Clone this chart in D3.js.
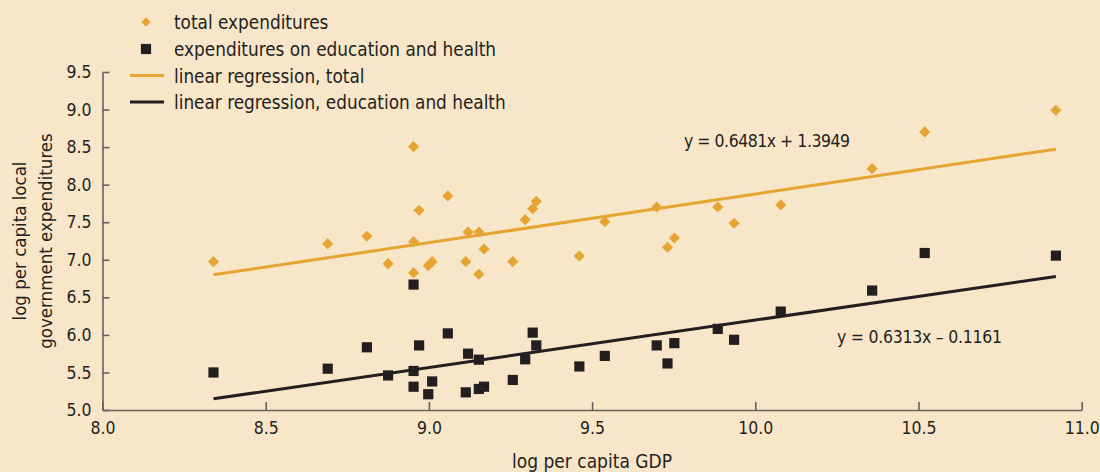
<!DOCTYPE html>
<html>
  <head>
    <meta charset="utf-8">
    <title>log per capita local government expenditures</title>
    <script src="https://d3js.org/d3.v7.min.js"></script>
<style type="text/css">
body{
  margin:0;
  background-color:#F8E6C8;
}
svg text{
  font-family:"DejaVu Sans Condensed","DejaVu Sans",sans-serif;
  font-stretch:condensed;
  fill:#231F20;
}
.axis path, .axis line{
  stroke:#66625d;
  stroke-width:1.6;
}
</style>
  </head>
  <body>
<svg width="1100" height="472"></svg>
<script>
// log per capita GDP (same countries for both series)
var gdp = [8.34, 8.69, 8.81, 8.875, 8.953, 8.953, 8.953, 8.97, 8.998, 9.01, 9.058,
  9.113, 9.12, 9.153, 9.153, 9.169, 9.257, 9.295, 9.318, 9.329, 9.461, 9.539,
  9.698, 9.731, 9.752, 9.885, 9.935, 10.078, 10.358, 10.519, 10.921];
// log per capita local government expenditures, total
var totalExp = [6.975, 7.214, 7.313, 6.948, 8.506, 7.241, 6.828, 7.659, 6.921, 6.975, 7.85,
  6.975, 7.37, 7.37, 6.807, 7.144, 6.975, 7.534, 7.68, 7.779, 7.051, 7.507,
  7.703, 7.166, 7.29, 7.703, 7.486, 7.73, 8.213, 8.702, 8.991];
// expenditures on education and health
var eduHealthExp = [5.5, 5.55, 5.835, 5.46, 6.67, 5.52, 5.31, 5.86, 5.21, 5.38, 6.02,
  5.235, 5.75, 5.67, 5.28, 5.31, 5.4, 5.675, 6.03, 5.86, 5.58, 5.72,
  5.86, 5.62, 5.89, 6.08, 5.935, 6.31, 6.59, 7.09, 7.055];
// regression coefficients printed on the chart
var fitTotal = [0.6481, 1.3949];
var fitEdu = [0.6313, -0.1161];
var xTicks = [8.0, 8.5, 9.0, 9.5, 10.0, 10.5, 11.0];
var yTicks = [5.0, 5.5, 6.0, 6.5, 7.0, 7.5, 8.0, 8.5, 9.0, 9.5];
var legendLabels = ["total expenditures", "expenditures on education and health",
  "linear regression, total", "linear regression, education and health"];

var orange = "#E6A532", dark = "#231F20";

var svg = d3.select("svg");

var x = d3.scaleLinear().domain([8, 11]).range([102.5, 1081.7]);
var y = d3.scaleLinear().domain([5, 9.5]).range([410, 72]);

// axes
svg.append("g")
  .attr("class", "axis")
  .attr("transform", "translate(0,410)")
  .call(d3.axisBottom(x).tickValues(xTicks).tickFormat(d3.format(".1f"))
    .tickSizeInner(-8).tickSizeOuter(0).tickPadding(12))
  .call(function(g){
    g.selectAll("text").attr("font-size", 17.5).attr("font-family", null).attr("fill", dark);
  });

svg.append("g")
  .attr("class", "axis")
  .attr("transform", "translate(102.5,0)")
  .call(d3.axisLeft(y).tickValues(yTicks).tickFormat(d3.format(".1f"))
    .tickSizeInner(-7).tickSizeOuter(0).tickPadding(11))
  .call(function(g){
    g.selectAll("text").attr("font-size", 17.5).attr("font-family", null).attr("fill", dark);
  });

// axis titles
svg.append("text")
  .attr("x", 592).attr("y", 468)
  .attr("text-anchor", "middle")
  .attr("font-size", 19)
  .text("log per capita GDP");

var yTitle = svg.append("text")
  .attr("transform", "translate(0,241) rotate(-90)")
  .attr("text-anchor", "middle")
  .attr("font-size", 18.5);
yTitle.append("tspan").attr("x", 0).attr("y", 26).text("log per capita local");
yTitle.append("tspan").attr("x", 0).attr("y", 52).text("government expenditures");

// regression lines
var xr = d3.extent(gdp);
var line = d3.line().x(function(d){ return x(d[0]); }).y(function(d){ return y(d[1]); });
[[fitTotal, orange], [fitEdu, dark]].forEach(function(f){
  svg.append("path")
    .attr("d", line(xr.map(function(v){ return [v, f[0][0] * v + f[0][1]]; })))
    .attr("fill", "none")
    .attr("stroke", f[1])
    .attr("stroke-width", 3);
});

// points
var pts = gdp.map(function(g, i){ return {g: g, t: totalExp[i], e: eduHealthExp[i]}; });
var diamond = d3.symbol().type(d3.symbolSquare).size(62);
var square = d3.symbol().type(d3.symbolSquare).size(104);

svg.append("g").selectAll("path")
  .data(pts)
  .enter().append("path")
    .attr("d", diamond)
    .attr("transform", function(d){ return "translate(" + x(d.g) + "," + y(d.t) + ") rotate(45)"; })
    .attr("fill", orange);

svg.append("g").selectAll("path")
  .data(pts)
  .enter().append("path")
    .attr("d", square)
    .attr("transform", function(d){ return "translate(" + x(d.g) + "," + y(d.e) + ")"; })
    .attr("fill", dark);

// equations
svg.append("text")
  .attr("x", 684).attr("y", 147)
  .attr("font-size", 17.5)
  .attr("textLength", 166)
  .text("y = " + fitTotal[0].toFixed(4) + "x + " + fitTotal[1].toFixed(4));
svg.append("text")
  .attr("x", 837).attr("y", 343)
  .attr("font-size", 17.5)
  .attr("textLength", 165)
  .text("y = " + fitEdu[0].toFixed(4) + "x \u2013 " + Math.abs(fitEdu[1]).toFixed(4));

// legend
var legend = svg.append("g");
var rowY = [22, 49, 75.5, 102];
legend.append("path").attr("d", d3.symbol().type(d3.symbolSquare).size(44)())
  .attr("transform", "translate(146," + rowY[0] + ") rotate(45)").attr("fill", orange);
legend.append("path").attr("d", square())
  .attr("transform", "translate(146," + rowY[1] + ")").attr("fill", dark);
legend.append("line").attr("x1", 130).attr("x2", 164).attr("y1", rowY[2]).attr("y2", rowY[2])
  .attr("stroke", orange).attr("stroke-width", 3);
legend.append("line").attr("x1", 130).attr("x2", 164).attr("y1", rowY[3]).attr("y2", rowY[3])
  .attr("stroke", dark).attr("stroke-width", 3);
legend.selectAll("text.lab")
  .data(legendLabels)
  .enter().append("text")
    .attr("class", "lab")
    .attr("x", 174)
    .attr("y", function(d, i){ return rowY[i] + 7; })
    .attr("font-size", 18.8)
    .text(function(d){ return d; });
</script>
  </body>
</html>
